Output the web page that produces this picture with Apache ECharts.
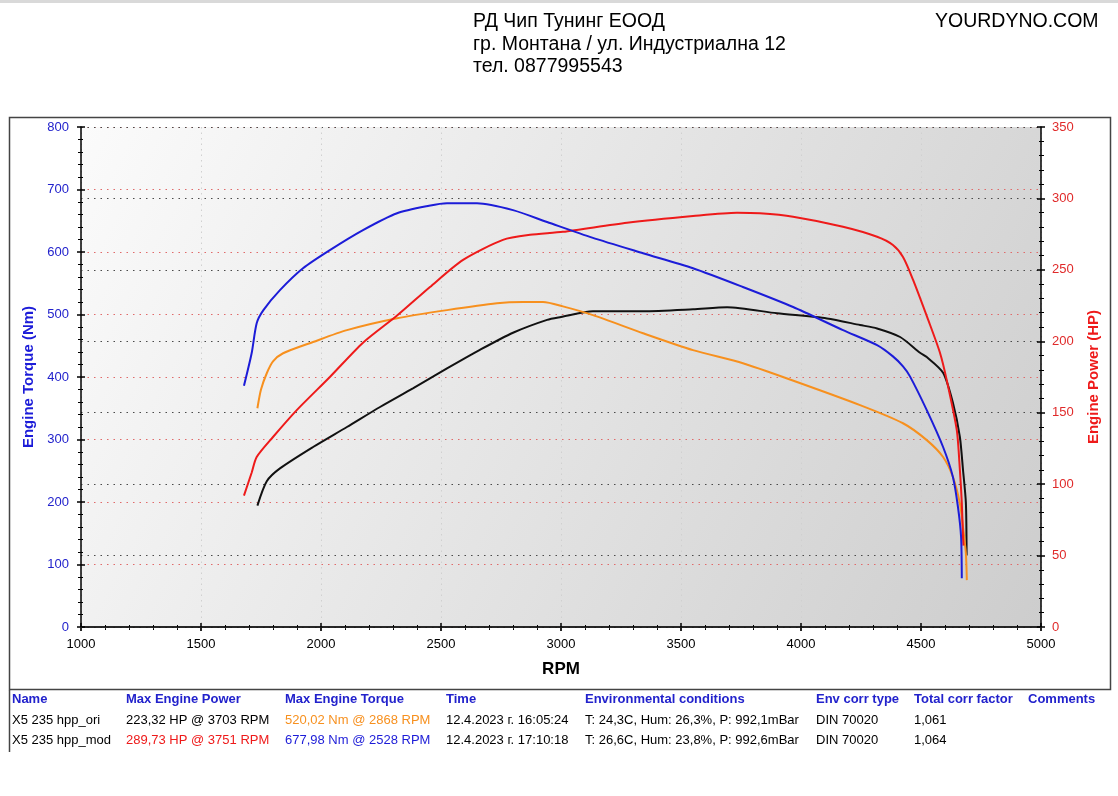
<!DOCTYPE html>
<html>
<head>
<meta charset="utf-8">
<script src="https://cdn.jsdelivr.net/npm/echarts@6/dist/echarts.min.js"></script>
<style>
  html, body { margin: 0; padding: 0; background: #fff; }
  #chart { width: 1118px; height: 796px; }
</style>
</head>
<body>
<div id="chart"></div>
<script>
// [rpm, Nm] / [rpm, HP] read from the dyno sheet
const modTorque = [
  [1679, 386], [1711, 438], [1732, 486], [1760, 507], [1829, 539], [1925, 574],
  [2037, 603], [2175, 635], [2317, 662], [2450, 674], [2525, 678], [2650, 678],
  [2800, 667], [2942, 648], [3130, 623], [3342, 598], [3550, 574], [3758, 544],
  [3967, 512], [4175, 475], [4317, 451], [4383, 433], [4425, 417], [4454, 401],
  [4524, 347], [4592, 288], [4633, 240], [4654, 192], [4667, 144], [4670, 78]
]
const oriTorque = [
  [1735, 350], [1750, 380], [1774, 406], [1800, 425], [1842, 438], [1967, 456],
  [2108, 475], [2317, 494], [2525, 507], [2733, 518], [2842, 520], [2925, 520],
  [3008, 513], [3133, 499], [3342, 470], [3550, 443], [3758, 422], [3954, 396],
  [4246, 355], [4425, 326], [4524, 299], [4592, 272], [4633, 240], [4662, 198],
  [4675, 160], [4687, 118], [4691, 75]
]
const modPower = [
  [1679, 92], [1711, 108], [1732, 119], [1800, 133], [1900, 152], [2037, 175],
  [2175, 199], [2317, 218], [2454, 238], [2592, 257], [2758, 271], [2871, 274.5],
  [3008, 276.6], [3275, 283], [3550, 287.7], [3733, 290], [3829, 289.6], [3967, 287.2],
  [4175, 280.2], [4317, 273.2], [4383, 267.4], [4425, 259], [4467, 243], [4530, 215],
  [4579, 192], [4607, 173], [4649, 138], [4662, 110], [4670, 87], [4675, 63], [4677, 57]
]
const oriPower = [
  [1735, 85], [1774, 102], [1829, 111], [1967, 126], [2108, 140], [2246, 154],
  [2383, 167], [2525, 181], [2662, 194], [2800, 206], [2942, 215], [3000, 217],
  [3133, 221], [3342, 221], [3550, 222.4], [3692, 223.8], [3900, 219.6], [4108, 216],
  [4246, 211.4], [4317, 209], [4413, 203], [4496, 192], [4524, 189], [4592, 178],
  [4633, 157], [4662, 133], [4675, 110], [4687, 87], [4690, 50]
]

const headerLines = ['РД Чип Тунинг ЕООД', 'гр. Монтана / ул. Индустриална 12', 'тел. 0877995543']
const tableHead = ['Name', 'Max Engine Power', 'Max Engine Torque', 'Time',
  'Environmental conditions', 'Env corr type', 'Total corr factor', 'Comments']
const tableRows = [
  ['X5 235 hpp_ori', '223,32 HP @ 3703 RPM', '520,02 Nm @ 2868 RPM', '12.4.2023 г. 16:05:24',
    'T: 24,3C, Hum: 26,3%, P: 992,1mBar', 'DIN 70020', '1,061', ''],
  ['X5 235 hpp_mod', '289,73 HP @ 3751 RPM', '677,98 Nm @ 2528 RPM', '12.4.2023 г. 17:10:18',
    'T: 26,6C, Hum: 23,8%, P: 992,6mBar', 'DIN 70020', '1,064', '']
]

const FONT = '"Liberation Sans", Arial, sans-serif'
const BLUE = '#1c1cd8'
const ORANGE = '#f7901e'
const RED = '#ee1a1a'
const BLACK = '#111111'
const HEAD_BLUE = '#2222cc'

const colX = [12, 126, 285, 446, 585, 816, 914, 1028]
const rowColors = [
  ['#000', '#000', ORANGE, '#000', '#000', '#000', '#000', '#000'],
  ['#000', RED, BLUE, '#000', '#000', '#000', '#000', '#000']
]

const graphics = [
  { type: 'rect', shape: { x: 0, y: 0, width: 1118, height: 3 }, style: { fill: '#d9d9d9' } },
  { type: 'rect', shape: { x: 9.5, y: 117.5, width: 1101, height: 572 },
    style: { fill: 'none', stroke: '#444', lineWidth: 1.5 }, z: -1 },
  { type: 'line', shape: { x1: 9.5, y1: 690, x2: 9.5, y2: 752 }, style: { stroke: '#444', lineWidth: 1.5 } },
  { type: 'text', x: 935, y: 22, style: { text: 'YOURDYNO.COM', font: '19.5px ' + FONT, fill: '#000', verticalAlign: 'middle' } }
]
headerLines.forEach((t, i) => {
  graphics.push({ type: 'text', x: 473, y: 22 + i * 22.5,
    style: { text: t, font: '19.5px ' + FONT, fill: '#000', verticalAlign: 'middle' } })
})
tableHead.forEach((t, i) => {
  graphics.push({ type: 'text', x: colX[i], y: 699,
    style: { text: t, font: 'bold 13px ' + FONT, fill: HEAD_BLUE, verticalAlign: 'middle' } })
})
tableRows.forEach((row, r) => {
  row.forEach((t, i) => {
    graphics.push({ type: 'text', x: colX[i], y: 720 + r * 20,
      style: { text: t, font: '13px ' + FONT, fill: rowColors[r][i], verticalAlign: 'middle' } })
  })
})

const dotted = (color) => ({ show: true, lineStyle: { color: color, width: 1, type: [1.5, 5] } })
const plain = (v) => String(v)

const chart = echarts.init(document.getElementById('chart'))
chart.setOption({
  animation: false,
  textStyle: { fontFamily: FONT },
  graphic: graphics,
  grid: {
    left: 81, right: 77, top: 127, bottom: 169,
    show: true, borderWidth: 0,
    backgroundColor: {
      type: 'linear', x: 0, y: 0, x2: 1, y2: 1,
      colorStops: [{ offset: 0, color: '#fbfbfb' }, { offset: 1, color: '#cdcdcd' }]
    }
  },
  xAxis: [
    {
      type: 'value', min: 1000, max: 5000, interval: 500, position: 'bottom',
      name: 'RPM', nameLocation: 'middle', nameGap: 34,
      nameTextStyle: { fontSize: 17, fontWeight: 'bold', color: '#000' },
      axisLine: { show: true, lineStyle: { color: '#000', width: 1.5 } },
      axisTick: { show: true, length: 4, lineStyle: { color: '#000', width: 1.5 } },
      minorTick: { show: true, splitNumber: 5, length: 3, lineStyle: { color: '#000' } },
      axisLabel: { color: '#000', fontSize: 13, margin: 11, formatter: plain },
      splitLine: { show: true, lineStyle: { color: '#d0d0d0', width: 1, type: [1.5, 4] } }
    },
    {
      type: 'value', min: 1000, max: 5000, interval: 500, position: 'bottom', offset: 0,
      axisLine: { show: false },
      axisTick: { show: true, inside: true, length: 4, lineStyle: { color: '#000', width: 1.5 } },
      minorTick: { show: true, splitNumber: 5, length: 2, lineStyle: { color: '#000' } },
      axisLabel: { show: false }, splitLine: { show: false }
    },
    {
      type: 'value', min: 1000, max: 5000, interval: 500, position: 'top',
      axisLine: { show: true, lineStyle: { color: '#222', width: 1.5 } },
      axisTick: { show: true, inside: true, length: 4, lineStyle: { color: '#222', width: 1.5 } },
      minorTick: { show: true, splitNumber: 5, length: 2, lineStyle: { color: '#222' } },
      axisLabel: { show: false }, splitLine: { show: false }
    }
  ],
  yAxis: [
    {
      type: 'value', min: 0, max: 800, interval: 100, position: 'left',
      name: 'Engine Torque (Nm)', nameLocation: 'middle', nameGap: 45, nameRotate: 90,
      nameTextStyle: { fontSize: 15, fontWeight: 'bold', color: BLUE },
      axisLine: { show: true, lineStyle: { color: '#000', width: 1.5 } },
      axisTick: { show: true, length: 4, lineStyle: { color: '#000', width: 1.5 } },
      minorTick: { show: true, splitNumber: 5, length: 3, lineStyle: { color: '#000' } },
      axisLabel: { color: HEAD_BLUE, fontSize: 13, margin: 12, formatter: plain },
      splitLine: dotted('#e06a6a')
    },
    {
      type: 'value', min: 0, max: 350, interval: 50, position: 'right',
      name: 'Engine Power (HP)', nameLocation: 'middle', nameGap: 45, nameRotate: 90,
      nameTextStyle: { fontSize: 15, fontWeight: 'bold', color: RED },
      axisLine: { show: true, lineStyle: { color: '#000', width: 1.5 } },
      axisTick: { show: true, length: 4, lineStyle: { color: '#000', width: 1.5 } },
      minorTick: { show: true, splitNumber: 5, length: 3, lineStyle: { color: '#000' } },
      axisLabel: { color: '#e02a2a', fontSize: 13, margin: 11, formatter: plain },
      splitLine: dotted('#4a4a4a')
    },
    {
      type: 'value', min: 0, max: 800, interval: 100, position: 'left', offset: 0,
      axisLine: { show: false },
      axisTick: { show: true, inside: true, length: 4, lineStyle: { color: '#000', width: 1.5 } },
      minorTick: { show: true, splitNumber: 5, length: 2, lineStyle: { color: '#000' } },
      axisLabel: { show: false }, splitLine: { show: false }
    },
    {
      type: 'value', min: 0, max: 350, interval: 50, position: 'right', offset: 0,
      axisLine: { show: false },
      axisTick: { show: true, inside: true, length: 4, lineStyle: { color: '#000', width: 1.5 } },
      minorTick: { show: true, splitNumber: 5, length: 2, lineStyle: { color: '#000' } },
      axisLabel: { show: false }, splitLine: { show: false }
    }
  ],
  series: [
    { name: 'hpp_ori power', type: 'line', yAxisIndex: 1, data: oriPower, color: BLACK },
    { name: 'hpp_ori torque', type: 'line', yAxisIndex: 0, data: oriTorque, color: ORANGE },
    { name: 'hpp_mod power', type: 'line', yAxisIndex: 1, data: modPower, color: RED },
    { name: 'hpp_mod torque', type: 'line', yAxisIndex: 0, data: modTorque, color: BLUE }
  ].map((s) => Object.assign(s, {
    showSymbol: false, smooth: 0.25,
    lineStyle: { width: 2 }
  }))
})
</script>
</body>
</html>
